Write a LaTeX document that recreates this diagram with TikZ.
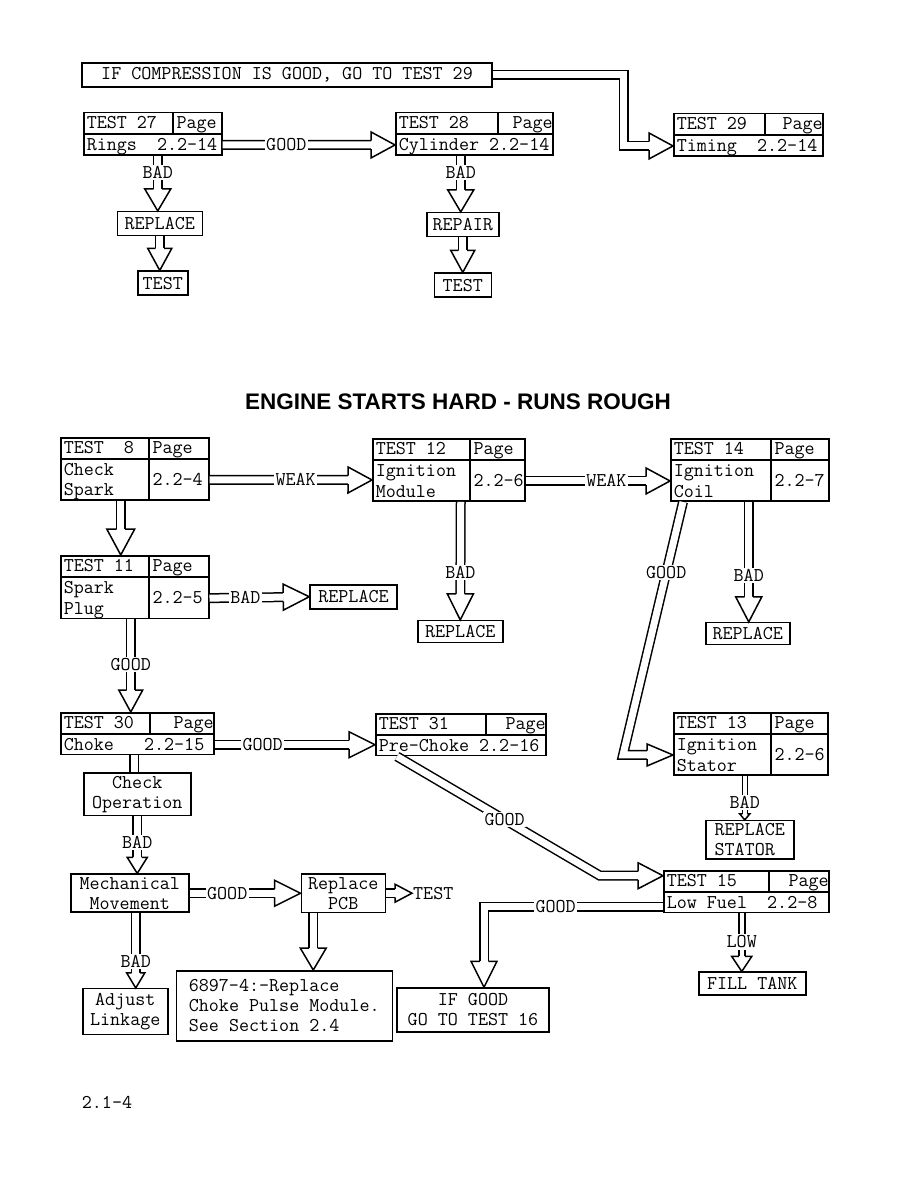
\documentclass[tikz,border=0pt]{standalone}
\usepackage{fontspec}
\usepackage{array}
\usetikzlibrary{positioning, calc, decorations.markings}
\newfontfamily\headfont{Liberation Sans}
\newcommand\tfont{\ttfamily\fontsize{19.5}{20}\selectfont}
\setlength{\arrayrulewidth}{1.5pt}
\renewcommand{\arraystretch}{0.5}
\newcolumntype{Q}[1]{@{\hspace{3pt}}>{\rule[-4pt]{0pt}{20pt}}p{#1}@{}}
\newcommand\onebody[1]{\multicolumn{2}{@{\hspace{3pt}}l@{}}{\rule[-4pt]{0pt}{20pt}#1}}
\newcommand\hollowtip[3]{%
  \fill[white, shorten >=0pt, shorten <=0pt] (-#1,-#2) -- (0,0) -- (-#1,#2) -- cycle;
  \draw[line width=1.5pt, line join=miter, shorten >=0pt, shorten <=0pt]
    (-#1,-#3) -- (-#1,-#2) -- (0,0) -- (-#1,#2) -- (-#1,#3);}
\tikzset{
  dline/.style={double, double distance=7pt, line width=1.5pt},
  Hollow/.style n args={3}{dline, shorten >=#1pt,
    decoration={markings, mark=at position 1 with {\hollowtip{#1}{#2}{#3}}},
    postaction={decorate}},
  box/.style={draw, line width=1.5pt, inner xsep=4pt, inner ysep=3pt, minimum height=24pt},
  testbox/.style={draw, line width=1.5pt, inner sep=0pt, anchor=north west},
  lbl/.style={fill=white, inner sep=1.5pt}
}

\begin{document}
\begin{tikzpicture}[x=1pt, y=-1pt, every node/.style={font=\tfont}]
\useasboundingbox (0,0) rectangle (918,1188);

 \node[box, minimum width=410pt] (cmp) at (287,75) {IF COMPRESSION IS GOOD, GO TO TEST 29};
 \node[testbox] (t27) at (83,112) {\begin{tabular}{Q{85.25pt}|Q{45.25pt}}
   TEST 27 & Page\\ \hline \onebody{Rings~~2.2-14}\end{tabular}};
 \node[testbox] (t28) at (395,112) {\begin{tabular}{Q{98.25pt}|Q{51.25pt}}
   TEST 28 & \hfill Page\\ \hline \onebody{Cylinder~2.2-14}\end{tabular}};
 \node[testbox] (t29) at (673,113) {\begin{tabular}{Q{87.25pt}|Q{54.25pt}}
   TEST 29 & \hfill Page\\ \hline \onebody{Timing~~2.2-14}\end{tabular}};
 \node[box, minimum width=85pt, below=55pt of t27, xshift=7pt] (rep27) {REPLACE};
 \node[box, minimum width=50pt, below=34pt of rep27, xshift=3pt] (tst27) {TEST};
 \node[box, minimum width=72pt, below=56pt of t28, xshift=-11.5pt] (rep28) {REPAIR};
 \node[box, minimum width=57pt, below=35pt of rep28] (tst28) {TEST};

 \draw[Hollow={24}{13}{4.25}] (cmp.east) -- ++(131,0) |- ($(t29.west)+(0,11)$);
 \draw[Hollow={24}{13}{4.25}] ($(t27.east)+(0,11)$) -- node[lbl, pos=.37]{GOOD} ($(t28.west)+(0,11)$);
 \draw[Hollow={22}{13}{4.25}] ($(t27.south)+(5,0)$) -- node[lbl, pos=.3]{BAD} ($(rep27.north)+(-2,0)$);
 \draw[Hollow={22}{12}{4.25}] (rep27.south) -- (rep27.south |- tst27.north);
 \draw[Hollow={22}{13}{4.25}] ($(t28.south)+(-13.5,0)$) -- node[lbl, pos=.3]{BAD} ($(rep28.north)+(-2,0)$);
 \draw[Hollow={22}{12}{4.25}] (rep28.south) -- (tst28.north);

 \node[font=\headfont\bfseries\fontsize{22.5}{24}\selectfont] (title) at (458,402) {ENGINE STARTS HARD - RUNS ROUGH};

 \node[testbox] (t8) at (60,437) {\begin{tabular}{Q{84.25pt}|Q{56.25pt}}
   TEST~~8 & Page\\ \hline Check & \smash{\raisebox{-10pt}{2.2-4}}\\ Spark & \end{tabular}};
 \node[testbox] (t12) at (372,438) {\begin{tabular}{Q{93.25pt}|Q{51.25pt}}
   TEST 12 & Page\\ \hline Ignition & \smash{\raisebox{-10pt}{2.2-6}}\\ Module & \end{tabular}};
 \node[testbox] (t14) at (670,438) {\begin{tabular}{Q{96.25pt}|Q{54.25pt}}
   TEST 14 & Page\\ \hline Ignition & \smash{\raisebox{-10pt}{2.2-7}}\\ Coil & \end{tabular}};
 \node[testbox] (t11) at (60,555) {\begin{tabular}{Q{84.25pt}|Q{56.25pt}}
   TEST 11 & Page\\ \hline Spark & \smash{\raisebox{-10pt}{2.2-5}}\\ Plug & \end{tabular}};
 \node[box, minimum width=87pt] (rep11) at (353.5,596.75) {REPLACE};
 \node[box, minimum width=85pt, minimum height=22pt, below=118pt of t12, xshift=11.5pt] (rep12) {REPLACE};
 \node[box, minimum width=84pt, minimum height=22pt, below=120pt of t14, xshift=-2pt] (rep14) {REPLACE};
 \node[testbox] (t30) at (60,712) {\begin{tabular}{Q{85.25pt}|Q{60.25pt}}
   TEST 30 & \hfill Page\\ \hline \onebody{Choke~~~2.2-15}\end{tabular}};
 \node[testbox] (t31) at (375,713) {\begin{tabular}{Q{106.25pt}|Q{56.25pt}}
   TEST 31 & \hfill Page\\ \hline \onebody{Pre-Choke~2.2-16}\end{tabular}};
 \node[testbox] (t13) at (673,712) {\begin{tabular}{Q{93.25pt}|Q{53.25pt}}
   TEST 13 & Page\\ \hline Ignition & \smash{\raisebox{-10pt}{2.2-6}}\\ Stator & \end{tabular}};
 \node[box, align=left, minimum width=88pt, below=44pt of t13, xshift=-1pt] (repst) {REPLACE\\STATOR};
 \node[testbox] (t15) at (663,870) {\begin{tabular}{Q{101.25pt}|Q{56.25pt}}
   TEST 15 & \hfill Page\\ \hline \onebody{Low~Fuel~~2.2-8}\end{tabular}};
 \node[box, minimum width=107pt, minimum height=23pt, below=58pt of t15, xshift=6pt] (fill) {FILL TANK};
 \node[box, align=center, minimum width=152pt, minimum height=44pt] (ifg) at (473,1010) {IF GOOD\\GO TO TEST 16};
 \node[box, align=center, minimum width=107pt, below=17pt of t30] (chk) {Check\\Operation};
 \node[box, align=center, minimum width=118pt, below=57pt of chk, xshift=-7.5pt] (mech) {Mechanical\\Movement};
 \node[box, align=center, minimum width=84pt, right=111pt of mech] (pcb) {Replace\\PCB};
 \node[inner sep=1pt, right=26pt of pcb] (tsttxt) {TEST};
 \node[box, align=left, minimum width=216pt, minimum height=70pt, below=57pt of pcb, xshift=-59pt] (note)
   {6897-4:-Replace\\Choke Pulse Module.\\See Section 2.4};
 \node[box, align=center, minimum width=85pt, minimum height=46pt, below=75pt of mech, xshift=-4.5pt] (adj) {Adjust\\Linkage};
 \node (pg) at (107,1102) {2.1-4};

 \draw[Hollow={24}{13}{4.25}] ($(t8.east)+(0,11)$) -- node[lbl, pos=.53]{WEAK} ($(t12.west)+(0,10)$);
 \draw[Hollow={24}{13}{4.25}] ($(t12.east)+(0,11)$) -- node[lbl, pos=.56]{WEAK} ($(t14.west)+(0,11)$);
 \draw[Hollow={26}{14}{4.25}] ($(t8.south)+(-14,0)$) -- ($(t11.north)+(-14,0)$);
 \draw[Hollow={26}{13}{4.25}] ($(t11.east)+(0,11)$) -- node[lbl, pos=.36]{BAD} (rep11.west);
 \draw[Hollow={22}{12}{4.25}] ($(t11.south)+(-4,0)$) -- node[lbl, pos=.49]{GOOD} ($(t30.north)+(-6.5,0)$);
 \draw[Hollow={26}{13}{4.25}] ($(t12.south)+(12,0)$) -- node[lbl, pos=.6]{BAD} (rep12.north);
 \draw[Hollow={25}{13}{4.25}] ($(t14.south)+(-1,0)$) -- node[lbl, pos=.61]{BAD} ($(rep14.north)+(1,0)$);
 \draw[Hollow={26}{11}{4.25}] ($(t14.south west)+(13,0)$) -- node[lbl, pos=.28]{GOOD}
   ($(t13.west)+(-50,11)$) -- ($(t13.west)+(0,11)$);
 \draw[Hollow={6}{5}{2.5}, double distance=3.5pt] ($(t13.south)+(-6,0)$) -- node[lbl, pos=.6]{BAD} ($(repst.north)+(-5,0)$);
 \draw[Hollow={26}{13}{4.25}] ($(t30.east)+(0,11)$) -- node[lbl, pos=.3]{GOOD} ($(t31.west)+(0,10)$);
 \draw[Hollow={25}{13}{4.25}] ($(t31.south west)+(22,0)$) -- node[lbl, pos=.53]{GOOD}
   ($(t15.west)+(-63,-16)$) -- ($(t15.west)+(0,-16)$);
 \draw[dline] ($(t30.south)+(-3,0)$) -- ($(chk.north)+(-3,0)$);
 \draw[Hollow={16}{10}{4.25}] (chk.south) -- node[lbl, pos=.46]{BAD} ($(mech.north)+(7.5,0)$);
 \draw[Hollow={26}{13}{4.25}] (mech.east) -- node[lbl, pos=.34]{GOOD} (pcb.west);
 \draw[Hollow={17}{9}{4.25}] (pcb.east) -- (tsttxt.west);
 \draw[Hollow={22}{13}{4.25}] ($(pcb.south)+(-30,0)$) -- ($(note.north)+(29,0)$);
 \draw[Hollow={15}{9}{4.25}] ($(mech.south)+(6,0)$) -- node[lbl, pos=.65]{BAD} ($(adj.north)+(10.5,0)$);
 \draw[Hollow={15}{10}{3}, double distance=4.5pt] ($(t15.south)+(-4.5,0)$) -- node[lbl, pos=.49]{LOW} ($(fill.north)+(-10.5,0)$);
 \draw[Hollow={26}{13}{4.25}] ($(t15.west)+(0,15)$) -| node[lbl, pos=.3]{GOOD} ($(ifg.north)+(11,0)$);

\end{tikzpicture}
\end{document}
